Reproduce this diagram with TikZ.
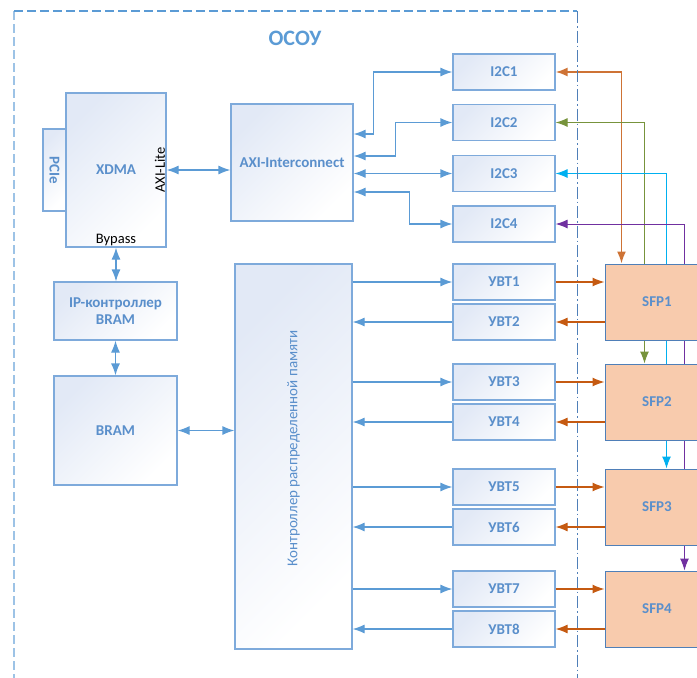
\documentclass[tikz,border=0pt]{standalone}
\usepackage{fontspec}
\setmainfont{Carlito}
\usepackage{xcolor}
\definecolor{osblue}{HTML}{5B9BD5}
\definecolor{osblue-text}{HTML}{5A8FCB}
\definecolor{osblue-line}{HTML}{7EAADB}
\definecolor{osblue-dark}{HTML}{4F7FB8}
\definecolor{osblue-light}{HTML}{E2E9F6}
\definecolor{osblue-frame}{HTML}{9DC3E6}
\definecolor{osorange}{HTML}{C55A11}
\definecolor{osgreen}{HTML}{77933C}
\definecolor{oscyan}{HTML}{00B0F0}
\definecolor{ospurple}{HTML}{7030A0}
\definecolor{ospeach}{HTML}{F8CBAD}
\usetikzlibrary{arrows.meta,backgrounds}
\tikzset{
  % --- BOXES ---
  blue-box/.style={
    draw=osblue-line,
    line width=1.2pt,
    top color=osblue-light,
    bottom color=white,
    shading angle=45,
    text=osblue-text,
    font=\bfseries\fontsize{15}{17}\selectfont,
    inner sep=0pt,
    align=center
  },
  sfp-box/.style={
    fill=ospeach,
    draw=osblue-dark,
    line width=1pt,
    text=osblue-text,
    font=\bfseries\fontsize{15}{17}\selectfont,
    inner sep=0pt,
    minimum width=104pt,
    minimum height=76pt
  },
  small-box/.style={
    blue-box,
    minimum width=102pt,
    minimum height=36pt
  },
  % --- LABELS ---
  title/.style={
    text=osblue,
    font=\bfseries\fontsize{22}{26}\selectfont
  },
  black-label/.style={
    text=black,
    font=\fontsize{14.5}{17}\selectfont,
    inner sep=1.5pt
  },
  % --- FRAME ---
  frame-left/.style={draw=osblue-frame, line width=2pt, dash pattern=on 9pt off 4pt},
  frame-top/.style={draw=osblue, line width=1.2pt, dash pattern=on 9pt off 4pt},
  frame-right/.style={draw=osblue-dark, line width=1pt, dash pattern=on 12pt off 3pt on 1.5pt off 3pt},
  % --- ARROWS ---
  arrw/.style={draw=osblue, line width=1.2pt, ->},
  arrw-orange/.style={draw=osorange, line width=1.2pt, ->},
  arrw-green/.style={draw=osgreen, line width=1pt, <->},
  arrw-cyan/.style={draw=oscyan, line width=1pt, <->},
  arrw-purple/.style={draw=ospurple, line width=1pt, <->},
}

\begin{document}
\begin{tikzpicture}[x=1pt, y=-1pt, >={Latex[length=12pt,width=9pt]}]
  \useasboundingbox (0,0) rectangle (697,678);
  \clip (0,0) rectangle (697,678);
  % --- frame
  \draw[frame-left]  (14,11) -- (14,678);
  \draw[frame-top]   (14,11) -- (577,11);
  \draw[frame-right] (577,11) -- (577,678);
  \node[title] (title) at (295,38) {ОСОУ};
  % --- host side
  \node[blue-box, minimum width=23pt, minimum height=82pt] (pcie) at (54.5,170) {\rotatebox{-90}{PCIe}};
  \node[blue-box, minimum width=100pt, minimum height=154pt] (xdma) at (116,170) {XDMA};
  \node[black-label, rotate=90, anchor=south] (axilite) at (xdma.east) {AXI-Lite};
  \node[black-label, anchor=south] (bypass) at (xdma.south) {Bypass};
  \node[blue-box, minimum width=122pt, minimum height=117pt] (axi) at (292,162.5) {AXI-Interconnect};
  \node[blue-box, minimum width=123pt, minimum height=58pt] (ipc) at (115.5,311) {IP-контроллер\\BRAM};
  \node[blue-box, minimum width=123pt, minimum height=109pt] (bram) at (115.5,430.5) {BRAM};
  \node[blue-box, minimum width=117pt, minimum height=385pt, font=\fontsize{15}{17}\selectfont] (ctrl) at (293.5,456.5)
    {\rotatebox{90}{\hspace{16pt}Контроллер распределенной памяти}};
  % --- I2C, УВТ and SFP
  \foreach \i/\y in {1/72, 2/122.5, 3/173.5, 4/224}
    \node[small-box] (i2c\i) at (504,\y) {I2C\i};
  \foreach \i/\y in {1/282, 2/322, 3/382, 4/422, 5/487, 6/527, 7/589, 8/629}
    \node[small-box] (uvt\i) at (504,\y) {УВТ\i};
  \foreach \i/\y in {1/302, 2/402, 3/507, 4/609}
    \node[sfp-box] (sfp\i) at (657,\y) {SFP\i};
  % --- blue links
  \draw[arrw, <->] (xdma.east) -- (xdma.east -| axi.west);
  \draw[arrw, <->] (xdma.south) -- (xdma.south |- ipc.north);
  \draw[arrw, <->] (ipc.south) -- (ipc.south |- bram.north);
  \draw[arrw, <->] (bram.east) -- (bram.east -| ctrl.west);
  \draw[arrw, <->] ([yshift=28.5pt]axi.east) -- ++(20,0) |- (i2c1.west);
  \draw[arrw, <->] ([yshift=6.5pt]axi.east) -- ++(42,0) |- (i2c2.west);
  \draw[arrw, <->] (axi.east |- i2c3.west) -- (i2c3.west);
  \draw[arrw, <->] ([yshift=-29.5pt]axi.east) -- ++(56,0) |- (i2c4.west);
  \foreach \k in {1,...,4} {
    \pgfmathtruncatemacro\odd{2*\k-1}
    \pgfmathtruncatemacro\even{2*\k}
    \draw[arrw] (ctrl.east |- uvt\odd.west) -- (uvt\odd.west);
    \draw[arrw] (uvt\even.west) -- (ctrl.east |- uvt\even.west);
    \draw[arrw-orange] (uvt\odd.east) -- (uvt\odd.east -| sfp\k.west);
    \draw[arrw-orange] (uvt\even.east -| sfp\k.west) -- (uvt\even.east);
  }
  % --- I2C lines to SFP, behind the boxes
  \begin{scope}[on background layer]
    \draw[arrw-orange, <->, line width=1.8pt, draw=osorange!85] (i2c1.east) -| ([xshift=17pt]sfp1.north west);
    \draw[arrw-green]  (i2c2.east) -| ([xshift=40pt]sfp2.north west);
    \draw[arrw-cyan]   (i2c3.east) -| ([xshift=62pt]sfp3.north west);
    \draw[arrw-purple] (i2c4.east) -| ([xshift=80pt]sfp4.north west);
  \end{scope}
\end{tikzpicture}
\end{document}
